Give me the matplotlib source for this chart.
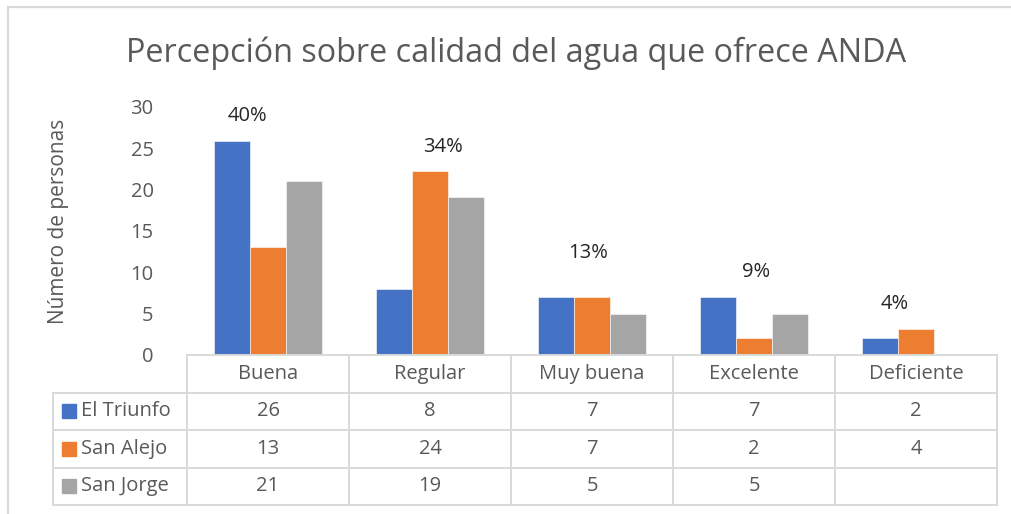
import numpy as np
import matplotlib
matplotlib.use("Agg")
import matplotlib.pyplot as plt
from matplotlib.patches import Rectangle

plt.rcParams['font.family'] = ['Open Sans', 'DejaVu Sans']

categories = ['Buena', 'Regular', 'Muy buena', 'Excelente', 'Deficiente']
series_names = ['El Triunfo', 'San Alejo', 'San Jorge']
colors = ['#4472C4', '#ED7D31', '#A5A5A5']

# values shown in the data table
el_triunfo = [26, 8, 7, 7, 2]
san_alejo = [13, 24, 7, 2, 4]
san_jorge = [21, 19, 5, 5, None]

# bar heights as drawn in the picture
el_triunfo_bars = [25.9, 8.0, 7.0, 7.0, 2.0]
san_alejo_bars = [13.1, 22.3, 7.0, 2.0, 3.2]
san_jorge_bars = [21.1, 19.1, 5.0, 5.0, 0]

percent_labels = ['40%', '34%', '13%', '9%', '4%']
percent_x = [-0.13, 1.08, 1.975, 3.01, 3.87]
percent_y = [28.9, 25.2, 12.3, 10.1, 6.2]

text_color = '#595959'
line_color = '#D9D9D9'
fs = 14.5

W, H = 1011, 514
fig = plt.figure(figsize=(W / 100, H / 100), dpi=100)
fig.patch.set_facecolor('white')

# outer frame (cropped chart area)
frame = fig.add_axes([0, 0, 1, 1])
frame.set_xlim(0, W)
frame.set_ylim(H, 0)
frame.axis('off')
frame.plot([8, 8, W + 5], [H + 5, 7, 7], color=line_color, lw=1.6, solid_joinstyle='miter')

fig.text(516 / W, (H - 53) / H, 'Percepción sobre calidad del agua que ofrece ANDA',
         fontsize=23.3, color=text_color, ha='center', va='center')

ax_left = 187 / W
ax_w = (997 - 187) / W
ax = fig.add_axes([ax_left, (H - 355) / H, ax_w, (355 - 107) / H])

x = np.arange(len(categories))
bw = 0.222
bars = [el_triunfo_bars, san_alejo_bars, san_jorge_bars]
for i, vals in enumerate(bars):
    ax.bar(x + (i - 1) * bw, vals, bw, color=colors[i], edgecolor='white', linewidth=0.4, zorder=2)

for lab, px, py in zip(percent_labels, percent_x, percent_y):
    ax.text(px, py, lab, ha='center', va='center', fontsize=fs, color='#262626')

ax.set_xlim(-0.5, 4.5)
ax.set_ylim(0, 30)
ax.set_yticks(range(0, 31, 5))
ax.tick_params(axis='y', length=0, pad=24, labelsize=fs, labelcolor=text_color)
ax.set_xticks([])
for s in ax.spines.values():
    s.set_visible(False)
ax.set_ylabel('Número de personas', fontsize=fs + 0.5, color=text_color)
ax.yaxis.set_label_coords(-(187 - 69) / (997 - 187), (355 - 221) / (355 - 107))

# data table
tax = fig.add_axes([ax_left, (H - 505) / H, ax_w, (505 - 355) / H])
tax.set_xlim(-0.5, 4.5)
tax.set_ylim(0, 4)
tax.axis('off')
lw = 1.4
left_x = -0.5 - (187 - 53) / 162
kw = dict(color=line_color, lw=lw, clip_on=False)
tax.plot([-0.5, 4.5], [4, 4], **kw)
for c in range(6):
    tax.plot([c - 0.5, c - 0.5], [0, 4], **kw)
for r in range(4):
    tax.plot([left_x, 4.5], [r, r], **kw)
tax.plot([left_x, left_x], [0, 3], **kw)

for c, cat in enumerate(categories):
    tax.text(c, 3.5, cat, ha='center', va='center', fontsize=fs, color=text_color)

table_rows = [el_triunfo, san_alejo, san_jorge]
sq_w = 14 / 162
sq_h = 14 / 37.5
for r, (name, vals) in enumerate(zip(series_names, table_rows)):
    yc = 2.5 - r
    sx = left_x + (62 - 53) / 162
    tax.add_patch(Rectangle((sx, yc - sq_h / 2), sq_w, sq_h, color=colors[r], clip_on=False))
    tax.text(left_x + (81 - 53) / 162, yc, name, ha='left', va='center', fontsize=fs, color=text_color)
    for c, v in enumerate(vals):
        if v is not None:
            tax.text(c, yc, str(v), ha='center', va='center', fontsize=fs, color=text_color)

fig.savefig('out.png', dpi=100, facecolor='white')
